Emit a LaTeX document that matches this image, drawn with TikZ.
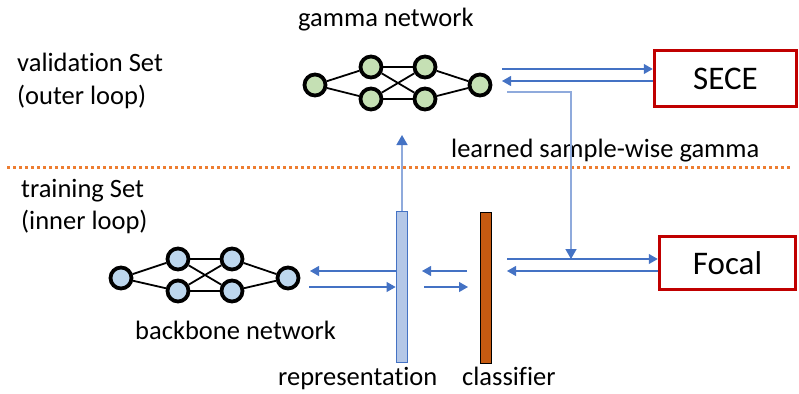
\documentclass[tikz,border=0pt]{standalone}
\usepackage{fontspec}
\setmainfont{Carlito}[RawFeature=-liga]
\usetikzlibrary{arrows.meta}
\definecolor{arrblue}{HTML}{4472C4}
\definecolor{lineblue}{HTML}{8FAADC}
\definecolor{gfill}{HTML}{C5E0B4}
\definecolor{bfill}{HTML}{BDD7EE}
\definecolor{repfill}{HTML}{B4C7E7}
\definecolor{clsfill}{HTML}{C55A11}
\definecolor{boxred}{HTML}{C00000}
\definecolor{dotorange}{HTML}{ED7D31}
\tikzset{
  neuron/.style={circle,draw=black,line width=3.8pt,minimum size=21pt,inner sep=0pt},
  gneuron/.style={neuron,fill=gfill},
  bneuron/.style={neuron,fill=bfill},
  conn/.style={line width=1.8pt,black},
  lbl/.style={font=\fontsize{26.5}{32}\selectfont,inner sep=0pt,anchor=base west},
  lossbox/.style={draw=boxred,line width=3.5pt,font=\fontsize{33}{40}\selectfont,inner sep=0pt},
  flow/.style={draw=arrblue,line width=1.1pt,-{Triangle[length=9pt,width=10pt]}},
  vflow/.style={draw=lineblue,line width=1.6pt},
  vhead/.style={-{Triangle[length=10pt,width=11pt,color=arrblue]}},
}
\begin{document}
\begin{tikzpicture}[x=1pt,y=-1pt]
\useasboundingbox (0,0) rectangle (799,393);

% texts
\node[lbl] (tgamma) at (298,27) {gamma network};
\node[lbl] (tval) at (17,72) {validation Set};
\node[lbl] (touter) at (17,104) {(outer loop)};
\node[lbl] (ttrain) at (21,197) {training Set};
\node[lbl] (tinner) at (21,229) {(inner loop)};
\node[lbl] (tlearn) at (451,157) {learned sample-wise gamma};
\node[lbl] (tback) at (135,339) {backbone network};
\node[lbl] (trep) at (278,385) {representation};
\node[lbl] (tcls) at (462,385) {classifier};

% dotted separator
\coordinate (dl) at (7,167);
\coordinate (dr) at (790,167);
\draw[dotorange,line width=3pt,dash pattern=on 3pt off 3pt] (dl) -- (dr);

% gamma network
\node[gneuron] (g1) at (315,85) {};
\node[gneuron] (g2) at (371,67) {};
\node[gneuron] (g3) at (371,99) {};
\node[gneuron] (g4) at (425,67) {};
\node[gneuron] (g5) at (425,99) {};
\node[gneuron] (g6) at (480,85) {};
\foreach \a/\b in {g1/g2,g1/g3,g2/g4,g2/g5,g3/g4,g3/g5,g4/g6,g5/g6}
  \draw[conn] (\a) -- (\b);

% backbone network
\node[bneuron] (b1) at (121,278) {};
\node[bneuron] (b2) at (178,259) {};
\node[bneuron] (b3) at (178,291) {};
\node[bneuron] (b4) at (232,259) {};
\node[bneuron] (b5) at (232,291) {};
\node[bneuron] (b6) at (288,278) {};
\foreach \a/\b in {b1/b2,b1/b3,b2/b4,b2/b5,b3/b4,b3/b5,b4/b6,b5/b6}
  \draw[conn] (\a) -- (\b);

% bars
\node[draw=arrblue,fill=repfill,line width=1.8pt,minimum width=11pt,minimum height=151pt,inner sep=0pt] (rep) at (402,287) {};
\node[draw=black,fill=clsfill,line width=1.8pt,minimum width=11pt,minimum height=151pt,inner sep=0pt] (cls) at (486,288) {};

% loss boxes
\node[lossbox,minimum width=142pt,minimum height=56pt] (sece) at (725.5,78.5) {SECE};
\node[lossbox,minimum width=136pt,minimum height=53pt] (focal) at (727.5,263) {Focal};

% gamma <-> SECE
\coordinate (gs1) at (502,69);
\coordinate (gs2) at (502,81);
\draw[flow] (gs1) -- (sece.west |- gs1);
\draw[flow] (sece.west |- gs2) -- (gs2);

% learned gamma to loss
\coordinate (lg0) at (507,92);
\coordinate (lg1) at (571,92);
\coordinate (lg2) at (571,259);
\draw[vflow] (lg0) -- (lg1) -- (lg2);
\draw[vflow,vhead] (lg1) -- (lg2);

% representation up to gamma
\coordinate (up) at (402,135);
\draw[vflow,vhead] (rep.north) -- (up);

% backbone <-> representation
\coordinate (br1) at (310,271);
\coordinate (br2) at (309,287);
\draw[flow] (rep.west |- br1) -- (br1);
\draw[flow] (br2) -- (rep.west |- br2);

% representation <-> classifier
\coordinate (rc1) at (467,271);
\coordinate (rc2) at (422,271);
\coordinate (rc3) at (424,287);
\coordinate (rc4) at (468,287);
\draw[flow] (rc1) -- (rc2);
\draw[flow] (rc3) -- (rc4);

% classifier <-> focal
\coordinate (cf1) at (507,259);
\coordinate (cf2) at (507,271);
\draw[flow] (cf1) -- (focal.west |- cf1);
\draw[flow] (focal.west |- cf2) -- (cf2);
\end{tikzpicture}
\end{document}
